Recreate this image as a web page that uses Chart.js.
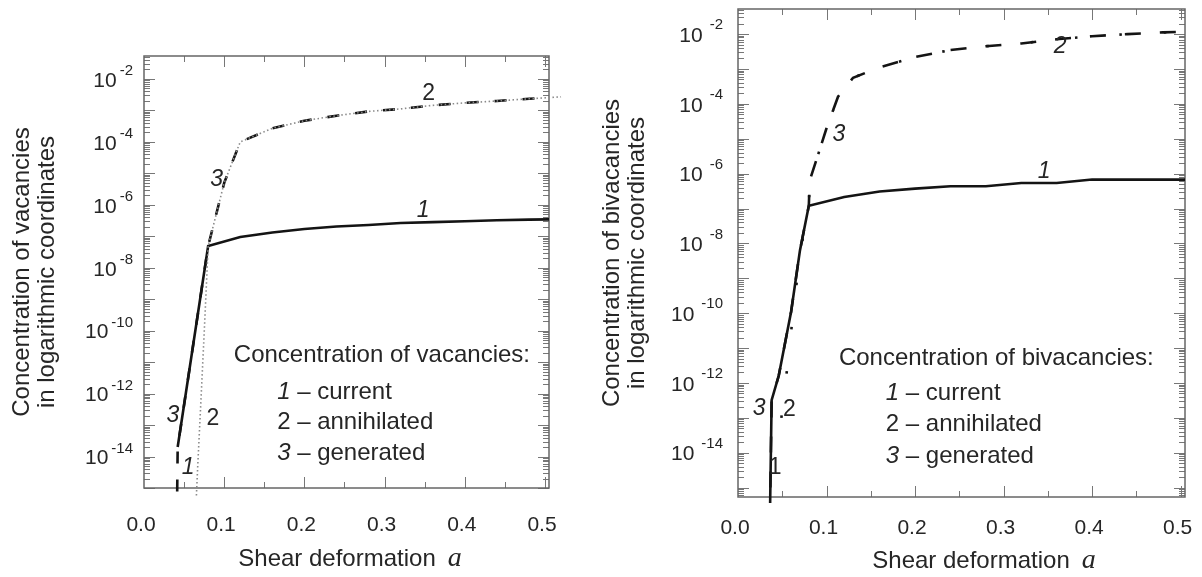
<!DOCTYPE html>
<html>
<head>
<meta charset="utf-8">
<script src="https://cdn.jsdelivr.net/npm/chart.js@4.4.1/dist/chart.umd.min.js"></script>
<style>
body { margin:0; background:#fff; }
#wrap { position:relative; width:1202px; height:577px; }
#leftBox { position:absolute; left:0; top:0; width:600px; height:577px; }
#rightBox { position:absolute; left:600px; top:0; width:602px; height:577px; }
</style>
</head>
<body>
<div id="wrap">
  <div id="leftBox"><canvas id="chartVac"></canvas></div>
  <div id="rightBox"><canvas id="chartBiv"></canvas></div>
</div>
<script>
// ---- vacancies (left panel) ----
var vacX1 = [0.042, 0.08, 0.12, 0.16, 0.2, 0.24, 0.28, 0.32, 0.36, 0.4, 0.44, 0.48, 0.52];
var vacY1 = [2e-14, 4.9e-8, 9.5e-8, 1.32e-7, 1.7e-7, 2.04e-7, 2.29e-7, 2.63e-7, 2.82e-7, 3.02e-7, 3.24e-7, 3.39e-7, 3.47e-7];
var vacX2 = [0.064, 0.067, 0.071, 0.075, 0.077, 0.08, 0.1, 0.12, 0.16, 0.2, 0.24, 0.28, 0.32, 0.36, 0.4, 0.44, 0.48, 0.52];
var vacY2 = [1e-16, 5e-15, 6e-13, 8e-11, 1e-9, 4.9e-8, 5e-6, 1e-4, 2.7e-4, 4.7e-4, 6.8e-4, 9.3e-4, 1.12e-3, 1.45e-3, 1.74e-3, 2.0e-3, 2.34e-3, 2.7e-3];
var vacX3 = [0.041, 0.042, 0.08, 0.1, 0.12, 0.16, 0.2, 0.24, 0.28, 0.32, 0.36, 0.4, 0.44, 0.48, 0.52];
var vacY3 = [1e-16, 2e-14, 4.9e-8, 5e-6, 1e-4, 2.7e-4, 4.7e-4, 6.8e-4, 9.3e-4, 1.12e-3, 1.45e-3, 1.74e-3, 2.0e-3, 2.34e-3, 2.7e-3];

// ---- bivacancies (right panel) ----
var bivX1 = [0.036, 0.038, 0.046, 0.06, 0.07, 0.08, 0.12, 0.16, 0.2, 0.24, 0.28, 0.32, 0.36, 0.4, 0.44, 0.48, 0.52];
var bivY1 = [1e-16, 3.2e-13, 1.6e-12, 1.1e-10, 6.3e-9, 1.2e-7, 2.14e-7, 3.09e-7, 3.72e-7, 4.37e-7, 4.37e-7, 5.37e-7, 5.37e-7, 6.76e-7, 6.76e-7, 6.76e-7, 6.76e-7];
var bivX2 = [0.049, 0.055, 0.061, 0.07, 0.08, 0.081, 0.09, 0.1, 0.113, 0.13, 0.16, 0.2, 0.24, 0.28, 0.32, 0.36, 0.4, 0.44, 0.48, 0.52];
var bivY2 = [1e-13, 2e-12, 5e-11, 5e-9, 1.2e-7, 6.3e-7, 3.2e-6, 2e-5, 1.6e-4, 5.6e-4, 1.12e-3, 2.2e-3, 3.5e-3, 4.5e-3, 5.4e-3, 7.1e-3, 8.7e-3, 1e-2, 1.12e-2, 1.2e-2];
var bivX3 = [0.036, 0.038, 0.046, 0.06, 0.07, 0.08, 0.081, 0.09, 0.1, 0.113, 0.13, 0.16, 0.2, 0.24, 0.28, 0.32, 0.36, 0.4, 0.44, 0.48, 0.52];
var bivY3 = [1e-16, 3.2e-13, 1.6e-12, 1.1e-10, 6.3e-9, 1.2e-7, 6.3e-7, 3.2e-6, 2e-5, 1.6e-4, 5.6e-4, 1.12e-3, 2.2e-3, 3.5e-3, 4.5e-3, 5.4e-3, 7.1e-3, 8.7e-3, 1e-2, 1.12e-2, 1.2e-2];

var xTickLabels = ['0.0', '0.1', '0.2', '0.3', '0.4', '0.5'];
var yLabelDecades = [-2, -4, -6, -8, -10, -12, -14];

// curve numbers and legend text (x in shear units, y as log10)
var vacCurveTags = [['2', 0.355, -2.46, false], ['3', 0.0905, -5.19, true], ['1', 0.348, -6.17, true],
                    ['3', 0.036, -12.71, true], ['2', 0.086, -12.8, false], ['1', 0.055, -14.35, true]];
var vacLegend = ['Concentration of vacancies:', '\u2013 current', '\u2013 annihilated', '\u2013 generated'];
var bivCurveTags = [['3', 0.114, -4.87, true], ['2', 0.364, -2.35, true], ['1', 0.346, -5.93, true],
                    ['3', 0.024, -12.73, true], ['2', 0.058, -12.78, false], ['1', 0.042, -14.42, false]];
var bivLegend = ['Concentration of bivacancies:', '\u2013 current', '\u2013 annihilated', '\u2013 generated'];

var FONT = "'Liberation Sans', Arial, sans-serif";

function pts(xs, ys) {
    var out = [];
    for (var i = 0; i < xs.length; i++) {
        out.push({x: xs[i], y: ys[i]});
    }
    return out;
}

var axisDeco = {
    id: 'axisDeco',
    beforeDatasetsDraw: function(chart) {
        var ctx = chart.ctx, a = chart.chartArea;
        var xs = chart.scales.x, ys = chart.scales.y;
        ctx.save();
        ctx.strokeStyle = '#777';
        ctx.lineWidth = 1;
        ctx.beginPath();
        // inward log ticks, both sides
        var dMin = Math.floor(Math.log10(ys.min)), dMax = Math.ceil(Math.log10(ys.max));
        for (var d = dMin; d <= dMax; d++) {
            for (var m = 1; m <= 9; m++) {
                var v = m * Math.pow(10, d);
                if (v < ys.min || v > ys.max) continue;
                var py = Math.round(ys.getPixelForValue(v)) + 0.5;
                var len = m == 1 ? 11 : 6;
                ctx.moveTo(a.left, py); ctx.lineTo(a.left + len, py);
                ctx.moveTo(a.right, py); ctx.lineTo(a.right - len, py);
            }
        }
        for (var i = 1; i <= 10; i++) {
            var px = Math.round(xs.getPixelForValue(i * 0.05)) + 0.5;
            if (px >= a.right - 1) continue;
            var l2 = i % 2 == 0 ? 11 : 6;
            ctx.moveTo(px, a.bottom); ctx.lineTo(px, a.bottom - l2);
            ctx.moveTo(px, a.top); ctx.lineTo(px, a.top + l2);
        }
        ctx.stroke();
        ctx.strokeStyle = '#666';
        ctx.lineWidth = 1.5;
        ctx.strokeRect(a.left, a.top, a.right - a.left, a.bottom - a.top);
        ctx.restore();
    },
    afterDatasetsDraw: function(chart) {
        var o = chart.options.plugins.axisDeco;
        var ctx = chart.ctx, a = chart.chartArea;
        var xs = chart.scales.x, ys = chart.scales.y;
        ctx.save();
        ctx.fillStyle = '#262626';
        // y tick labels 10^-n
        ctx.textBaseline = 'middle';
        for (var k = 0; k < yLabelDecades.length; k++) {
            var py = ys.getPixelForValue(Math.pow(10, yLabelDecades[k]));
            var ex = String(yLabelDecades[k]);
            ctx.font = '15px ' + FONT;
            ctx.textAlign = 'right';
            var r = a.left - o.labelRight;
            ctx.fillText(ex, r, py - o.expRaise);
            var w = ctx.measureText(ex).width;
            ctx.font = '21px ' + FONT;
            ctx.fillText('10', r - w - o.expGap, py + 2);
        }
        // x tick labels
        ctx.font = '21px ' + FONT;
        ctx.textAlign = 'center';
        for (var j = 0; j < xTickLabels.length; j++) {
            ctx.fillText(xTickLabels[j], xs.getPixelForValue(j * 0.1) - 3, a.bottom + o.xLabelOff);
        }
        // x title with italic a
        ctx.textBaseline = 'alphabetic';
        ctx.textAlign = 'left';
        ctx.font = '24px ' + FONT;
        var t1 = 'Shear deformation';
        var w1 = ctx.measureText(t1).width;
        ctx.font = 'italic 28px "Liberation Serif", serif';
        var w2 = ctx.measureText('a').width;
        var sx = o.titleCenter - (w1 + 12 + w2) / 2;
        ctx.font = '24px ' + FONT;
        ctx.fillText(t1, sx, o.titleBase);
        ctx.font = 'italic 28px "Liberation Serif", serif';
        ctx.fillText('a', sx + w1 + 12, o.titleBase);
        // curve numbers
        ctx.textBaseline = 'middle';
        ctx.textAlign = 'center';
        for (var n = 0; n < o.tags.length; n++) {
            var tg = o.tags[n];
            ctx.font = (tg[3] ? 'italic ' : '') + '23px ' + FONT;
            ctx.fillText(tg[0], xs.getPixelForValue(tg[1]), ys.getPixelForValue(Math.pow(10, tg[2])));
        }
        // legend text
        ctx.textAlign = 'left';
        ctx.font = '24px ' + FONT;
        ctx.fillText(o.legend[0], xs.getPixelForValue(o.legX[0]), ys.getPixelForValue(Math.pow(10, o.legY[0])));
        for (var q = 1; q < o.legend.length; q++) {
            var lx = xs.getPixelForValue(o.legX[1]);
            var ly = ys.getPixelForValue(Math.pow(10, o.legY[q]));
            ctx.font = (q == 2 ? '' : 'italic ') + '24px ' + FONT;
            ctx.fillText(String(q), lx, ly);
            var dw = ctx.measureText(String(q)).width;
            ctx.font = '24px ' + FONT;
            ctx.fillText(' ' + o.legend[q], lx + dw, ly);
        }
        ctx.restore();
    }
};

function makeChart(id, sets, cfg) {
    var ctx = document.getElementById(id).getContext('2d');
    return new Chart(ctx, {
        type: 'line',
        data: { datasets: sets },
        options: {
            responsive: true,
            maintainAspectRatio: false,
            animation: false,
            layout: { padding: cfg.padding },
            elements: { point: { radius: 0 }, line: { tension: 0 } },
            scales: {
                x: {
                    type: 'linear', min: 0, max: 0.505,
                    grid: { display: false }, border: { display: false },
                    ticks: { display: false },
                    afterFit: function(s) { s.height = 0; }
                },
                y: {
                    type: 'logarithmic', min: cfg.yMin, max: cfg.yMax,
                    grid: { display: false }, border: { display: false },
                    ticks: { display: false },
                    title: {
                        display: true,
                        text: cfg.yTitle,
                        color: '#262626',
                        padding: 0,
                        font: { family: FONT, size: 24, lineHeight: 1.05 }
                    },
                    afterFit: function(s) { s.width = cfg.yWidth; }
                }
            },
            plugins: {
                legend: { display: false },
                tooltip: { enabled: false },
                axisDeco: cfg.deco
            }
        },
        plugins: [axisDeco]
    });
}

makeChart('chartVac', [
    { data: pts(vacX2, vacY2), borderColor: '#8a8a8a', borderWidth: 1.6, borderDash: [1.5, 2.5],
      clip: { left: 0, top: 0, right: 14, bottom: 10 } },
    { data: pts(vacX3, vacY3), borderColor: '#141414', borderWidth: 2.6, borderDash: [12, 16],
      clip: { left: 0, top: 0, right: 0, bottom: 10 } },
    { data: pts(vacX1, vacY1), borderColor: '#141414', borderWidth: 2.6, clip: 0 }
], {
    padding: { left: 10, right: 51, top: 56, bottom: 89 },
    yMin: 1e-15, yMax: Math.pow(10, -1.27), yWidth: 134,
    yTitle: ['Concentration of vacancies', 'in logarithmic coordinates'],
    deco: {
        labelRight: 11, expGap: 3, expRaise: 8, xLabelOff: 37,
        titleCenter: 350, titleBase: 566,
        tags: vacCurveTags, legend: vacLegend,
        legX: [0.112, 0.166], legY: [-10.8, -11.95, -12.93, -13.91]
    }
});

makeChart('chartBiv', [
    { data: pts(bivX2, bivY2), borderColor: '#141414', borderWidth: 2.6, borderDash: [2.5, 42], clip: 0 },
    { data: pts(bivX3, bivY3), borderColor: '#141414', borderWidth: 2.6, borderDash: [16, 19], clip: 0 },
    { data: pts(bivX1, bivY1), borderColor: '#141414', borderWidth: 2.6,
      clip: { left: 0, top: 0, right: 0, bottom: 6 } }
], {
    padding: { left: 0, right: 17, top: 9, bottom: 80 },
    yMin: Math.pow(10, -15.27), yMax: Math.pow(10, -1.28), yWidth: 138,
    yTitle: ['Concentration of bivacancies', 'in logarithmic coordinates'],
    deco: {
        labelRight: 15, expGap: 7, expRaise: 9, xLabelOff: 31,
        titleCenter: 384, titleBase: 568,
        tags: bivCurveTags, legend: bivLegend,
        legX: [0.114, 0.167], legY: [-11.29, -12.30, -13.20, -14.10]
    }
});
</script>
</body>
</html>
